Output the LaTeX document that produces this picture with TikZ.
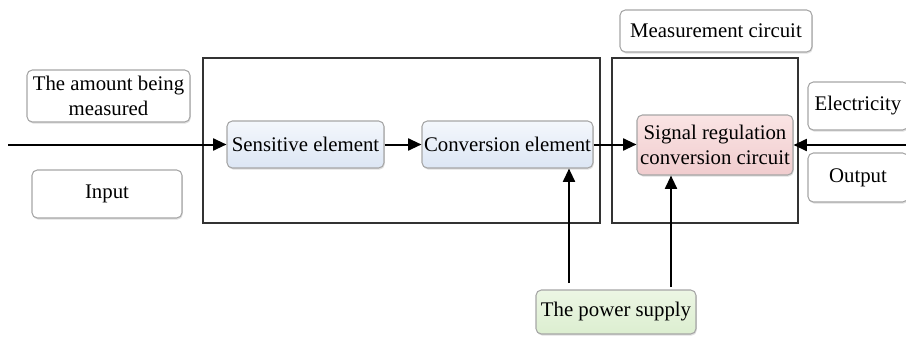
\documentclass[tikz,border=0pt]{standalone}
\usepackage{fontspec}
\setmainfont{Liberation Serif}
\usetikzlibrary{arrows.meta,shadows}
% lengths given in picture units (1 unit = 0.75pt)
\newcommand\pxu[1]{#1*0.75pt}
\definecolor{bluetop}{RGB}{244,247,252}
\definecolor{bluebot}{RGB}{220,230,244}
\definecolor{pinktop}{RGB}{250,228,228}
\definecolor{pinkbot}{RGB}{240,204,206}
\definecolor{greentop}{RGB}{236,246,228}
\definecolor{greenbot}{RGB}{220,238,208}
\begin{document}
\begin{tikzpicture}[x=0.75pt,y=-0.75pt,
  font=\fontsize{15.6pt}{18.8pt}\selectfont,
  pill/.style={rounded corners=4pt,draw=black!35,line width=0.8pt,
    inner sep=0pt,align=center,text=black,
    drop shadow={opacity=0.25,shadow xshift=0.6pt,shadow yshift=-1.2pt}},
  plainbox/.style={pill,top color=white,bottom color=white},
  bluebox/.style={pill,top color=bluetop,bottom color=bluebot},
  pinkbox/.style={pill,top color=pinktop,bottom color=pinkbot},
  greenbox/.style={pill,top color=greentop,bottom color=greenbot},
  frame/.style={draw=black!80,line width=1pt,inner sep=0pt},
  flow/.style={line width=1.5pt,-{Triangle[length=10pt,width=9pt]}}]
\useasboundingbox (0,0) rectangle (906,336);

% outer frames
\node[frame,minimum width=\pxu{397},minimum height=\pxu{165}] (sensor) at (401.5,140.5) {};
\node[frame,minimum width=\pxu{186},minimum height=\pxu{165}] (meas) at (705,140.5) {};

% labels outside the frames
\node[plainbox,minimum width=\pxu{163},minimum height=\pxu{52}] (amount) at (108.5,96)
  {The amount being\\measured};
\node[plainbox,minimum width=\pxu{150},minimum height=\pxu{48}] (input) at (107,194) {Input};
\node[plainbox,minimum width=\pxu{192},minimum height=\pxu{42}] (mlabel) at (716,31)
  {Measurement circuit};
\node[plainbox,minimum width=\pxu{100},minimum height=\pxu{48}] (elec) at (858,106) {Electricity};
\node[plainbox,minimum width=\pxu{100},minimum height=\pxu{49}] (output) at (858,177.5) {Output};

% processing blocks
\node[bluebox,minimum width=\pxu{157},minimum height=\pxu{47}] (sens) at (305.5,144.5)
  {Sensitive element};
\node[bluebox,minimum width=\pxu{171},minimum height=\pxu{47}] (conv) at (507.5,144.5)
  {Conversion element};
\node[pinkbox,minimum width=\pxu{156},minimum height=\pxu{60}] (sig) at (715,145)
  {Signal regulation\\conversion circuit};
\node[greenbox,minimum width=\pxu{160},minimum height=\pxu{44}] (power) at (616,312)
  {The power supply};

% connector ends
\coordinate (in) at (8,144.5);
\coordinate (out) at (906,145);
\coordinate (p1) at (569,283);
\coordinate (p2) at (671,287);

\draw[flow] (in) -- (sens.west);
\draw[flow] (sens.east) -- (conv.west);
\draw[flow] (conv.east) -- (sig.west |- conv.east);
\draw[flow] (out) -- (sig.east |- out);
\draw[flow] (p1) -- (p1 |- conv.south);
\draw[flow] (p2) -- (p2 |- sig.south);
\end{tikzpicture}
\end{document}
